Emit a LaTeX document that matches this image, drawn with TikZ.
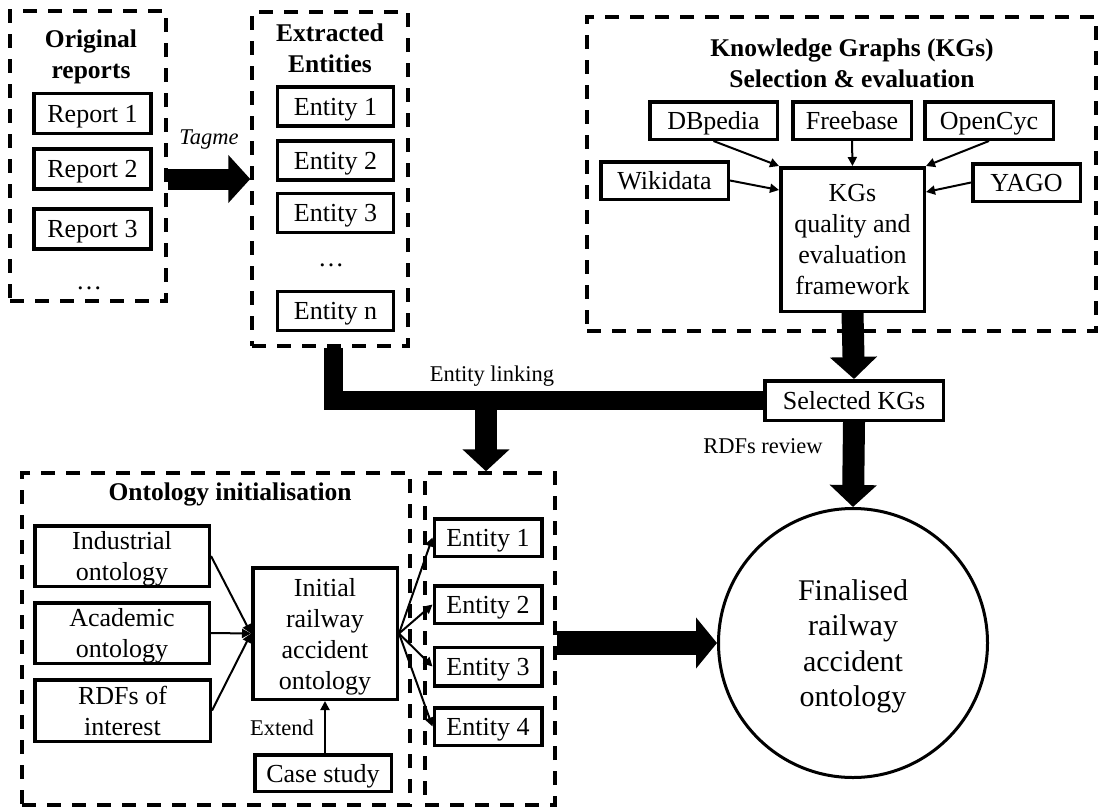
\documentclass[tikz,border=0pt]{standalone}
\usepackage{fontspec}
\setmainfont{Liberation Serif}
\usetikzlibrary{arrows.meta}
\begin{document}
\begin{tikzpicture}[x=1pt,y=-1pt,
  lbl/.style={font=\fontsize{26}{31}\selectfont, align=center, inner sep=0pt, text depth=0pt},
  box/.style={lbl, draw, line width=3.5pt, rectangle},
  title/.style={lbl, font=\fontsize{25.5}{31}\selectfont\bfseries},
  group/.style={draw, line width=3.5pt, dash pattern=on 14pt off 11pt, inner sep=0pt},
  note/.style={font=\fontsize{22.5}{27}\selectfont, inner sep=0pt, text depth=0pt},
  link/.style={line width=2pt, -{Triangle[length=9pt,width=9pt]}},
  fat/.style={line width=22pt, line join=miter, -{Triangle[length=22pt,width=46pt]}},
]
\useasboundingbox (0,0) rectangle (1102,811);

% dashed groups
\node[group, minimum width=156pt, minimum height=290pt] (orig) at (88,156) {};
\node[group, minimum width=156pt, minimum height=334pt] (ext) at (330,179) {};
\node[group, minimum width=509pt, minimum height=314pt] (kgg) at (841.5,174) {};
\node[group, minimum width=388pt, minimum height=332pt] (onto) at (216,639) {};
\node[group, minimum width=130pt, minimum height=332pt] (rbox) at (490,639) {};

% original reports
\node[title] (origT) at (91,54) {Original\\reports};
\node[box, minimum width=117pt, minimum height=40pt] (rep1) at (92.5,113.5) {Report 1};
\node[box, minimum width=117pt, minimum height=40pt] (rep2) at (92.5,169) {Report 2};
\node[box, minimum width=117pt, minimum height=40pt] (rep3) at (92.5,229) {Report 3};
\node[lbl] (repdots) at (89,288) {\dots};

% extracted entities
\node[title] (extT) at (330,48) {Extracted\\Entities};
\node[box, minimum width=116pt, minimum height=39pt] (ent1) at (335.5,106.5) {Entity 1};
\node[box, minimum width=116pt, minimum height=39pt] (ent2) at (335.5,160.5) {Entity 2};
\node[box, minimum width=116pt, minimum height=39pt] (ent3) at (335.5,213) {Entity 3};
\node[lbl] (entdots) at (331,265) {\dots};
\node[box, minimum width=116pt, minimum height=39pt] (entn) at (335.5,311) {Entity n};

% knowledge graphs
\node[title] (kgT) at (852,63) {Knowledge Graphs (KGs)\\Selection \& evaluation};
\node[box, minimum width=127.5pt, minimum height=37.5pt] (dbp) at (713.5,120.5) {DBpedia};
\node[box, minimum width=118.5pt, minimum height=37.5pt] (frb) at (852,120.5) {Freebase};
\node[box, minimum width=128.5pt, minimum height=37.5pt] (ocy) at (989,120.5) {OpenCyc};
\node[box, minimum width=127.5pt, minimum height=37.5pt] (wiki) at (664.5,180.5) {Wikidata};
\node[box, minimum width=107.5pt, minimum height=37.5pt] (yago) at (1026.5,182.5) {YAGO};
\node[box, minimum width=143.5pt, minimum height=143.5pt] (fw) at (852.5,239.5) {KGs\\quality and\\evaluation\\framework};
\node[box, minimum width=178.5pt, minimum height=39.5pt] (sel) at (854,400.5) {Selected KGs};

% ontology initialisation
\node[title] (ontoT) at (230,492) {Ontology initialisation};
\node[box, minimum width=174.5pt, minimum height=60.5pt] (ind) at (122,556) {Industrial\\ontology};
\node[box, minimum width=174.5pt, minimum height=60.5pt] (aca) at (122,633) {Academic\\ontology};
\node[box, minimum width=175.5pt, minimum height=61.5pt] (rdf) at (122.5,710.5) {RDFs of\\interest};
\node[box, minimum width=144.5pt, minimum height=131.5pt] (init) at (325,633.5) {Initial\\railway\\accident\\ontology};
\node[box, minimum width=136.5pt, minimum height=36.5pt] (case) at (323,773) {Case study};
\node[note] (extendL) at (282,728) {Extend};

\node[box, minimum width=107.5pt, minimum height=37.5pt] (e1) at (488,537.5) {Entity 1};
\node[box, minimum width=107.5pt, minimum height=37.5pt] (e2) at (488,604.5) {Entity 2};
\node[box, minimum width=107.5pt, minimum height=38.5pt] (e3) at (488,666.5) {Entity 3};
\node[box, minimum width=107.5pt, minimum height=37.5pt] (e4) at (488,726.5) {Entity 4};

% finalised ontology
\node[draw, circle, line width=3pt, minimum size=269pt, inner sep=0pt, align=center, text depth=0pt,
      font=\fontsize{30}{35.5}\selectfont] (fin) at (853,643) {Finalised\\railway\\accident\\ontology};

% labels
\node[note, font=\fontsize{22.5}{27}\selectfont\itshape] (tagmeL) at (209,137) {Tagme};
\node[note] (linkL) at (492,374) {Entity linking};
\node[note] (rdfL) at (763,446) {RDFs review};

% thin connectors
\draw[link] (dbp.south) -- (fw.north west);
\draw[link] (frb.south) -- (fw.north);
\draw[link] (ocy.south) -- (fw.north east);
\draw[link] (wiki.east) -- ([yshift=-24pt]fw.north west);
\draw[link] (yago.west) -- ([yshift=-26pt]fw.north east);

\draw[link] (ind.east) -- (init.west);
\draw[link] (aca.east) -- (init.west);
\draw[link] (rdf.east) -- (init.west);
\draw[link] (init.south |- case.north) -- (init.south);

\draw[link] (init.east) -- (e1.west);
\draw[link] (init.east) -- (e2.west);
\draw[link] (init.east) -- (e3.west);
\draw[link] (init.east) -- (e4.west);

% thick flow arrows
\draw[fat, line width=21pt, -{Triangle[length=22pt,width=47pt]}] (orig.east |- ext.west) -- (ext.west);
\draw[fat] (fw.south) -- (sel.north);
\draw[fat] (sel.south) -- (fin.north);
\draw[line width=19pt, line join=miter] ([xshift=3.5pt]ext.south) |- (sel.west);
\coordinate (drop) at (486,401);
\draw[fat] (drop) -- (drop |- rbox.north);
\draw[fat, line width=24pt, -{Triangle[length=21pt,width=50pt]}] (rbox.east |- fin.west) -- (fin.west);
\end{tikzpicture}
\end{document}
